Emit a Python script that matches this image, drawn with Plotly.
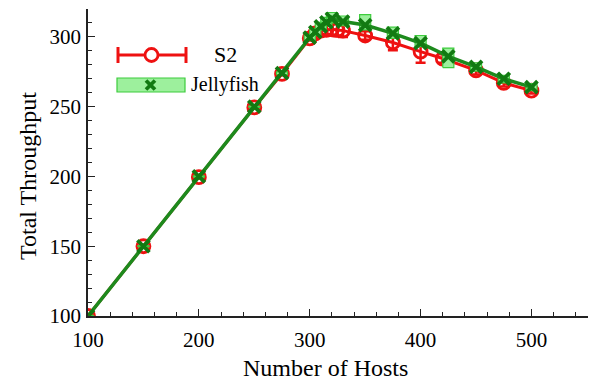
import plotly.graph_objects as go

# Throughput measurements
s2_hosts = [100, 150, 200, 250, 275, 300, 305, 310, 315, 320, 325, 330, 350, 375, 400, 420, 450, 475, 500]
s2_tput = [100, 150, 199.5, 249.5, 273.5, 299, 302.5, 304.5, 305, 305.5, 305, 304.5, 301, 296, 289.5, 284.5, 276, 267, 261.5]
s2_err = [0.5, 1, 1, 1, 1, 1.5, 2, 2.5, 3, 4.5, 4.5, 4.5, 3, 5.5, 8, 3, 3, 2.5, 2]

jf_hosts = [100, 150, 200, 250, 275, 300, 305, 310, 315, 320, 330, 350, 375, 400, 425, 450, 475, 500]
jf_tput = [100, 150, 200, 250, 274, 299.5, 303.5, 307.5, 310.5, 313, 311, 308.5, 302.5, 295.5, 286, 278.5, 270, 264]
jf_lo = [99.5, 149.5, 199.5, 249.5, 273, 297.5, 301, 305, 308, 310, 308, 305, 299, 293, 278, 275.5, 267, 261.5]
jf_hi = [100.5, 150.5, 200.5, 250.5, 275, 301.5, 306, 310.5, 314, 317.5, 315, 316, 307, 301, 292, 281.5, 272.5, 266.5]
box_half_width = 5

x_ticks = [100, 200, 300, 400, 500]
y_ticks = [100, 150, 200, 250, 300]

SERIF = "Liberation Serif"
RED = "#ee1111"
GREEN = "#1d8a1d"
XGREEN = "#127a12"
BOX_FILL = "#9df09d"
BOX_LINE = "#3dcc3d"

fig = go.Figure()

# S2: line, open circles, error bars
fig.add_trace(go.Scatter(
    x=s2_hosts, y=s2_tput, mode="lines+markers",
    line=dict(color=RED, width=3),
    marker=dict(symbol="circle-open", size=13, color=RED, line=dict(width=2.8, color=RED)),
    error_y=dict(type="data", array=s2_err, color=RED, thickness=2.5, width=5),
    showlegend=False,
))

# Jellyfish error boxes as filled polygons
bx, by = [], []
for h, lo, hi in zip(jf_hosts, jf_lo, jf_hi):
    bx += [h - box_half_width, h + box_half_width, h + box_half_width, h - box_half_width, h - box_half_width, None]
    by += [lo, lo, hi, hi, lo, None]
fig.add_trace(go.Scatter(
    x=bx, y=by, mode="lines", fill="toself", fillcolor=BOX_FILL,
    line=dict(color=BOX_LINE, width=1.2), showlegend=False, hoverinfo="skip",
))

# Jellyfish: line with x markers
fig.add_trace(go.Scatter(
    x=jf_hosts, y=jf_tput, mode="lines+markers",
    line=dict(color=GREEN, width=3.5),
    marker=dict(symbol="x-thin", size=12, color=XGREEN, line=dict(width=3.8, color=XGREEN)),
    showlegend=False,
))

# Hand-drawn legend (pixel positions converted to paper coords)
L, T, W, H = 88.0, 9.0, 500.0, 307.0
def px(xp):
    return (xp - L) / W
def py(yp):
    return (T + H - yp) / H

shapes = [
    # S2 entry: bar with caps and a circle
    dict(type="line", xref="paper", yref="paper", x0=px(117), x1=px(187), y0=py(55), y1=py(55), line=dict(color=RED, width=3)),
    dict(type="line", xref="paper", yref="paper", x0=px(118), x1=px(118), y0=py(47), y1=py(63), line=dict(color=RED, width=3)),
    dict(type="line", xref="paper", yref="paper", x0=px(186), x1=px(186), y0=py(47), y1=py(63), line=dict(color=RED, width=3)),
    dict(type="circle", xref="paper", yref="paper", x0=px(145), x1=px(158), y0=py(48.5), y1=py(61.5),
         line=dict(color=RED, width=2.8), fillcolor="white"),
    # Jellyfish entry: filled box with an x
    dict(type="rect", xref="paper", yref="paper", x0=px(117), x1=px(185), y0=py(78), y1=py(92),
         line=dict(color=BOX_LINE, width=1.2), fillcolor=BOX_FILL),
    dict(type="line", xref="paper", yref="paper", x0=px(146), x1=px(155), y0=py(80.5), y1=py(89.5), line=dict(color=XGREEN, width=3.8)),
    dict(type="line", xref="paper", yref="paper", x0=px(146), x1=px(155), y0=py(89.5), y1=py(80.5), line=dict(color=XGREEN, width=3.8)),
]

annotations = [
    dict(text="S2", xref="paper", yref="paper", x=px(212), y=py(55), xanchor="left", yanchor="middle",
         showarrow=False, font=dict(family=SERIF, size=22, color="black")),
    dict(text="Jellyfish", xref="paper", yref="paper", x=px(189), y=py(84), xanchor="left", yanchor="middle",
         showarrow=False, font=dict(family=SERIF, size=20, color="black")),
    dict(text="Number of Hosts", xref="paper", yref="paper", x=px(325), y=py(368), xanchor="center", yanchor="middle",
         showarrow=False, font=dict(family=SERIF, size=24, color="black")),
    dict(text="Total Throughput", xref="paper", yref="paper", x=px(28), y=py(176), xanchor="center", yanchor="middle",
         textangle=-90, showarrow=False, font=dict(family=SERIF, size=24, color="black")),
]

axis_common = dict(
    showgrid=False, zeroline=False, showline=True, linecolor="#222", linewidth=1.5,
    ticks="inside", ticklen=7, tickwidth=1.2, tickcolor="#222", mirror=False,
    tickfont=dict(family=SERIF, size=21, color="black"),
)

fig.update_layout(
    width=596, height=380,
    margin=dict(l=88, r=8, t=9, b=64),
    paper_bgcolor="white", plot_bgcolor="white",
    xaxis=dict(range=[100, 551], tickvals=x_ticks, ticktext=[str(v) for v in x_ticks],
               ticklabelstandoff=4,
               minor=dict(dtick=20, tick0=100, ticks="inside", ticklen=4, tickwidth=1, tickcolor="#222"),
               **axis_common),
    yaxis=dict(range=[100, 320], tickvals=y_ticks, ticktext=[str(v) for v in y_ticks],
               ticklabelstandoff=1,
               minor=dict(dtick=10, tick0=100, ticks="inside", ticklen=4, tickwidth=1, tickcolor="#222"),
               **axis_common),
    shapes=shapes,
    annotations=annotations,
)

fig.write_html("out.html")
